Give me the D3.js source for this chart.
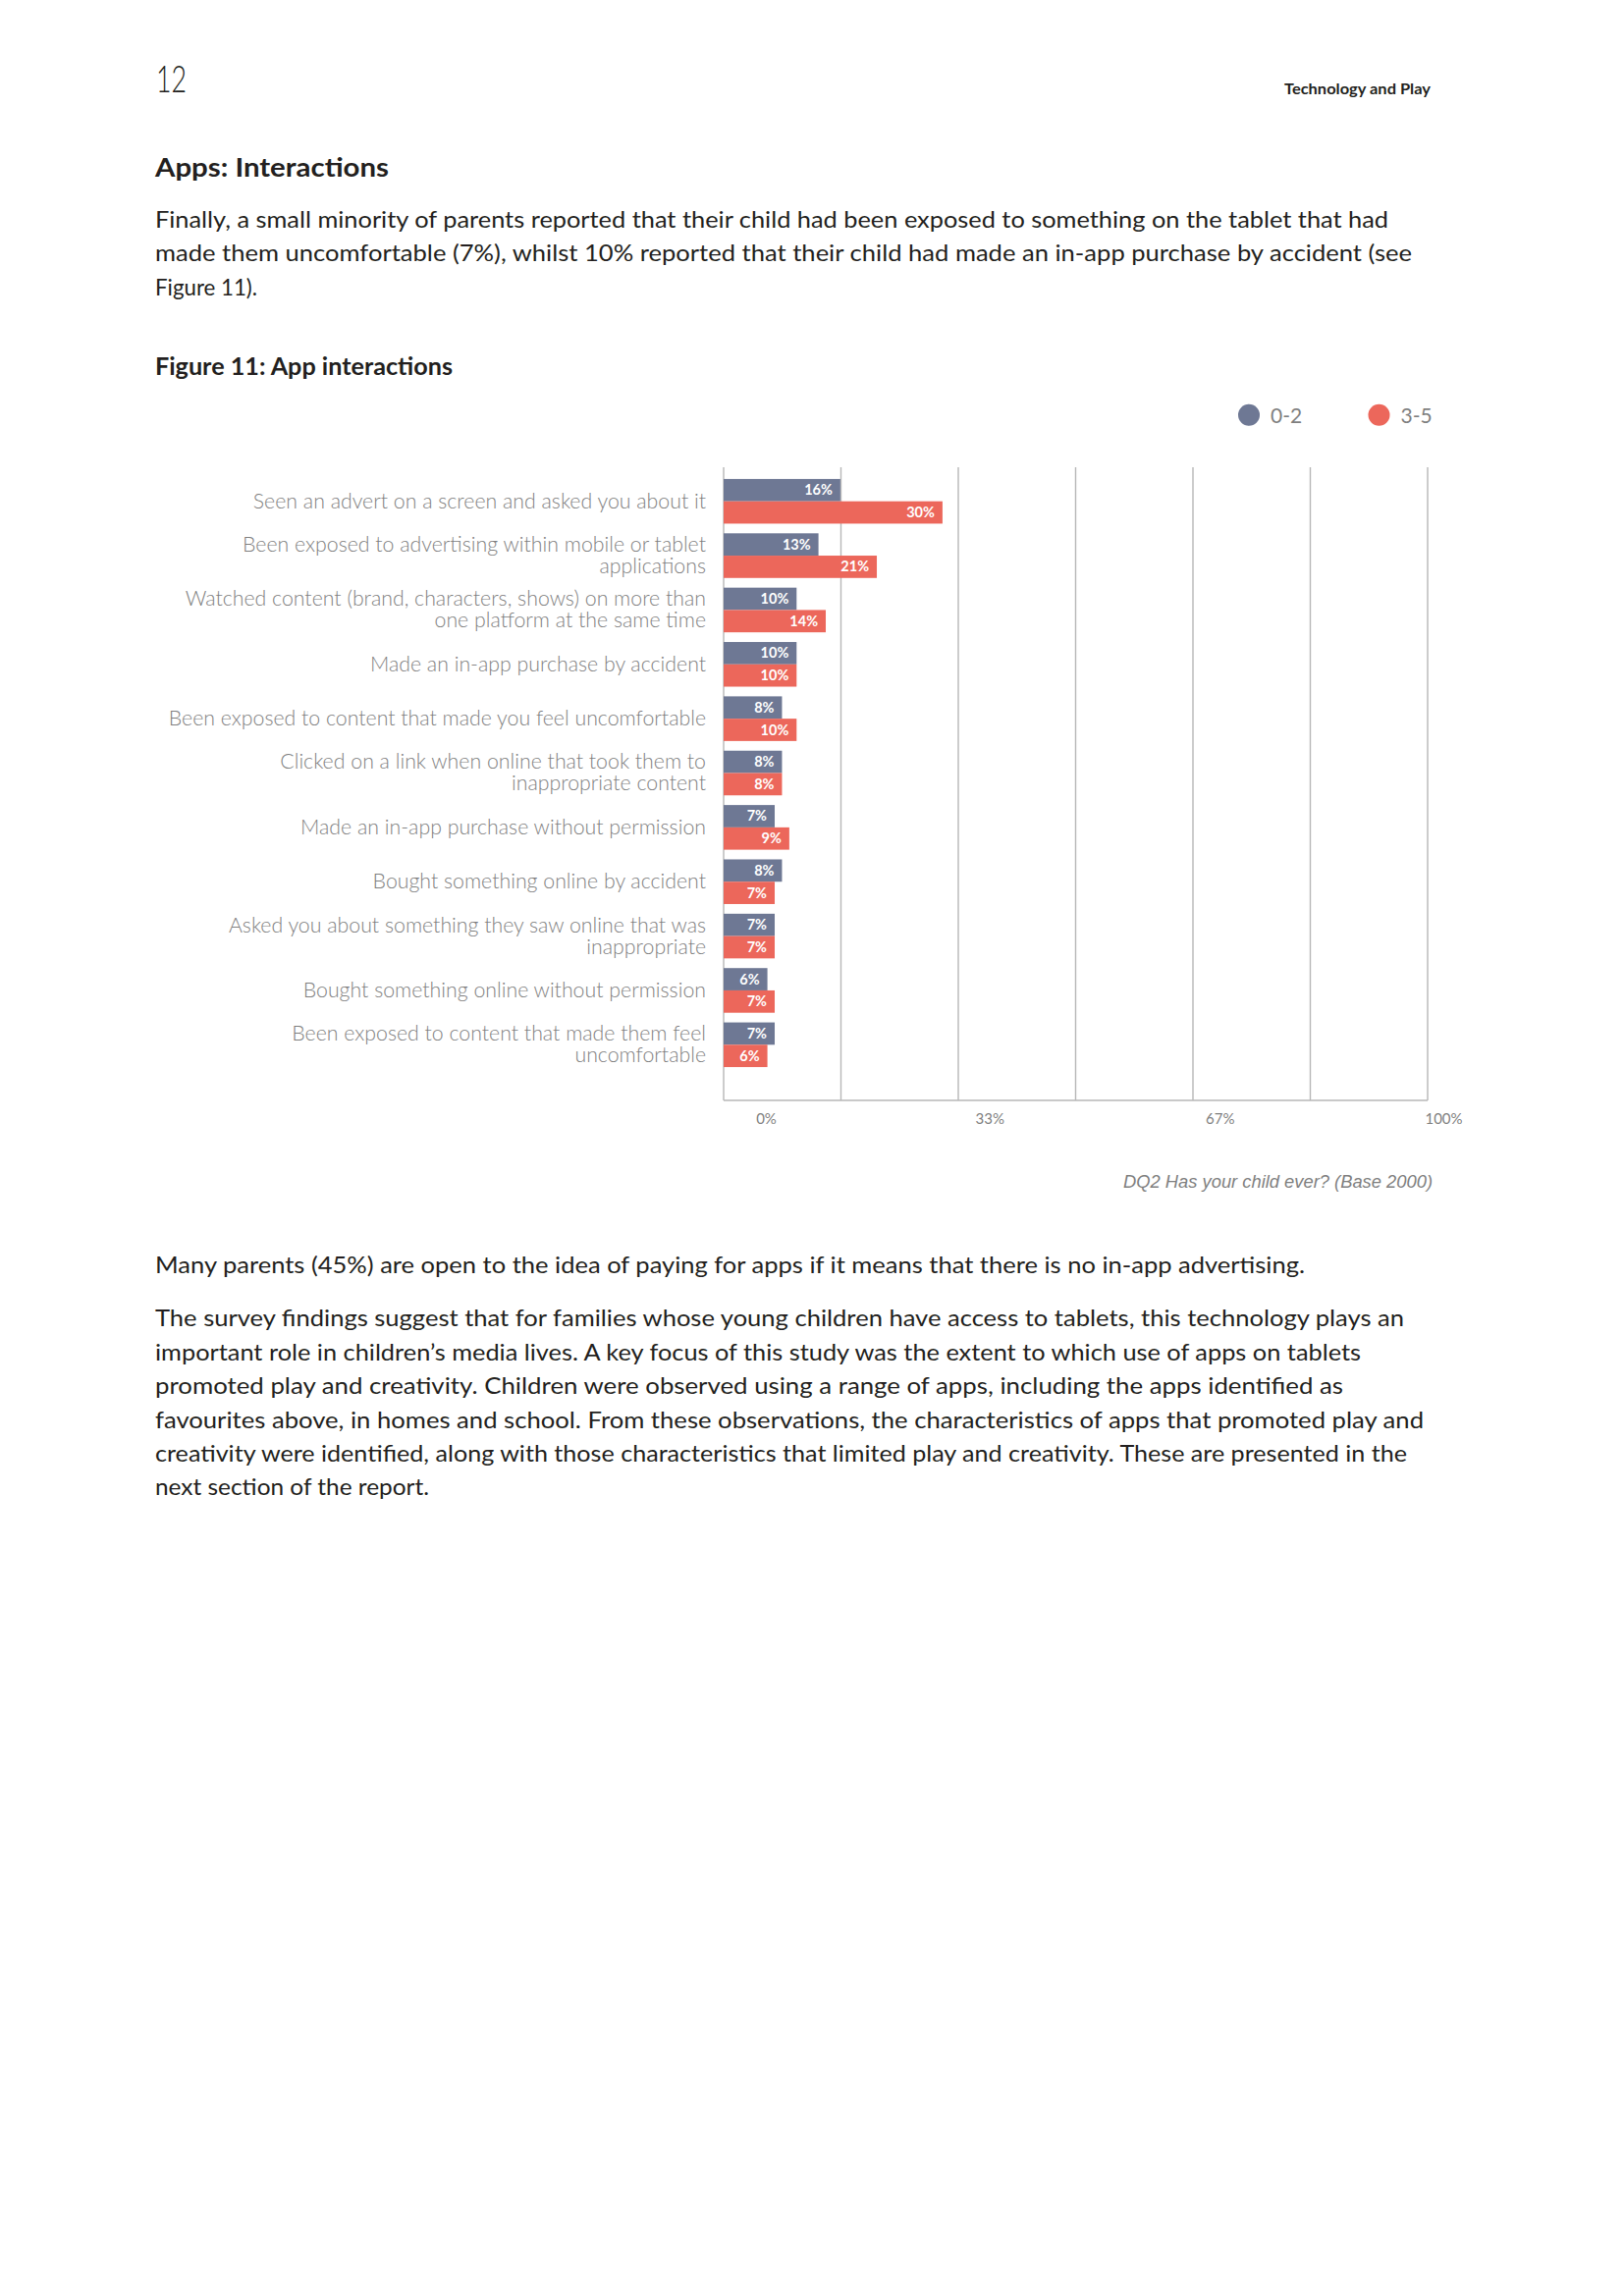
<!DOCTYPE html>
<html><head><meta charset="utf-8">
<script src="https://cdn.jsdelivr.net/npm/d3@7"></script>
<style>
html,body{margin:0;padding:0;background:#fff;}
svg{display:block;}
</style></head><body>
<script>
// ---------- DATA ----------
const categories = [
  "Seen an advert on a screen and asked you about it",
  "Been exposed to advertising within mobile or tablet\napplications",
  "Watched content (brand, characters, shows) on more than\none platform at the same time",
  "Made an in-app purchase by accident",
  "Been exposed to content that made you feel uncomfortable",
  "Clicked on a link when online that took them to\ninappropriate content",
  "Made an in-app purchase without permission",
  "Bought something online by accident",
  "Asked you about something they saw online that was\ninappropriate",
  "Bought something online without permission",
  "Been exposed to content that made them feel\nuncomfortable"
];
const seriesNames = ["0-2", "3-5"];
const values02 = [16, 13, 10, 10, 8, 8, 7, 8, 7, 6, 7];
const values35 = [30, 21, 14, 10, 10, 8, 9, 7, 7, 7, 6];
const axisMax = 96.5;              // right-most gridline value
const gridCount = 6;
const tickLabels = [0, 33, 67, 100];
const sourceNote = "DQ2 Has your child ever? (Base 2000)";

const para1 = [
  "Finally, a small minority of parents reported that their child had been exposed to something on the tablet that had",
  "made them uncomfortable (7%), whilst 10% reported that their child had made an in-app purchase by accident (see",
  "Figure 11)."
];
const para2 = ["Many parents (45%) are open to the idea of paying for apps if it means that there is no in-app advertising."];
const para3 = [
  "The survey findings suggest that for families whose young children have access to tablets, this technology plays an",
  "important role in children’s media lives. A key focus of this study was the extent to which use of apps on tablets",
  "promoted play and creativity. Children were observed using a range of apps, including the apps identified as",
  "favourites above, in homes and school. From these observations, the characteristics of apps that promoted play and",
  "creativity were identified, along with those characteristics that limited play and creativity. These are presented in the",
  "next section of the report."
];

// ---------- LAYOUT / STYLE ----------
const W = 1654, H = 2339;
const FONT = "Lato, 'Open Sans', sans-serif";
const TXT = "#231f20";
const GREY = "#7f7f7f";
const colors = ["#6e7894", "#ec675b"];

const svg = d3.select("body").append("svg").attr("width", W).attr("height", H)
  .style("background", "#fff");

function fit(sel, w) {
  sel.attr("textLength", w).attr("lengthAdjust", "spacingAndGlyphs");
  return sel;
}

// Header
fit(svg.append("text").attr("x", 159).attr("y", 94).text("12")
  .attr("font-family", FONT).attr("font-weight", 300).attr("font-size", 38).attr("fill", TXT), 31);
fit(svg.append("text").attr("x", 1308).attr("y", 95.5).text("Technology and Play")
  .attr("font-family", FONT).attr("font-weight", 700).attr("font-size", 16).attr("fill", TXT), 149);

fit(svg.append("text").attr("x", 158).attr("y", 180).text("Apps: Interactions")
  .attr("font-family", FONT).attr("font-weight", 700).attr("font-size", 27.5).attr("fill", TXT), 238);

function paragraph(lines, baselines, ends) {
  lines.forEach((l, i) => {
    const t = svg.append("text").attr("x", 158).attr("y", baselines[i]).text(l)
      .attr("font-family", FONT).attr("font-weight", 400).attr("font-size", 22.5).attr("fill", TXT);
    fit(t, ends[i] - 158);
  });
}
paragraph(para1, [231.5, 266, 300.5], [1414, 1438, 262]);
fit(svg.append("text").attr("x", 158).attr("y", 382).text("Figure 11: App interactions")
  .attr("font-family", FONT).attr("font-weight", 700).attr("font-size", 25).attr("fill", TXT), 303);
paragraph(para2, [1297], [1329]);
paragraph(para3, [1351, 1385.5, 1420, 1454.5, 1489, 1523], [1430, 1386, 1368, 1450, 1433, 437]);

// ---------- CHART ----------
const plotLeft = 737, plotRight = 1454, plotTop = 476, plotBottom = 1121;
const x = d3.scaleLinear().domain([0, axisMax]).range([plotLeft, plotRight]);
const y = d3.scaleBand().domain(categories).range([483, 1092]).padding(0);
const ySub = d3.scaleBand().domain(seriesNames).range([0, y.bandwidth()])
  .paddingInner(0).paddingOuter(0.217);
const color = d3.scaleOrdinal().domain(seriesNames).range(colors);

const g = svg.append("g");

// gridlines
const gridVals = d3.range(gridCount + 1).map(i => axisMax * i / gridCount);
g.selectAll("line.grid").data(gridVals).join("line").attr("class", "grid")
  .attr("x1", d => x(d)).attr("x2", d => x(d))
  .attr("y1", plotTop).attr("y2", plotBottom)
  .attr("stroke", "#b7b7b7").attr("stroke-width", 1.4);
g.append("line").attr("x1", x(0)).attr("x2", x(axisMax))
  .attr("y1", plotBottom).attr("y2", plotBottom)
  .attr("stroke", "#b7b7b7").attr("stroke-width", 1.6);

// bars
const rows = categories.map((c, i) => ({ cat: c, vals: [values02[i], values35[i]] }));
const rowG = g.selectAll("g.row").data(rows).join("g").attr("class", "row")
  .attr("transform", d => `translate(0,${y(d.cat)})`);

rowG.selectAll("rect").data(d => d.vals.map((v, k) => ({ s: seriesNames[k], v })))
  .join("rect")
  .attr("x", x(0)).attr("y", d => ySub(d.s))
  .attr("width", d => x(d.v) - x(0)).attr("height", ySub.bandwidth())
  .attr("fill", d => color(d.s));

rowG.selectAll("text.val").data(d => d.vals.map((v, k) => ({ s: seriesNames[k], v })))
  .join("text").attr("class", "val")
  .attr("x", d => x(d.v) - 8).attr("y", d => ySub(d.s) + ySub.bandwidth() / 2 + 5)
  .attr("text-anchor", "end").attr("fill", "#fff")
  .attr("font-family", FONT).attr("font-weight", 700).attr("font-size", 14.5)
  .text(d => d.v + "%");

// category labels
rowG.each(function (d) {
  const lines = d.cat.split("\n");
  const cy = y.bandwidth() / 2;
  const lh = 22;
  const t = d3.select(this).append("text").attr("text-anchor", "end")
    .attr("font-family", FONT).attr("font-weight", 300).attr("font-size", 21.3).attr("fill", GREY);
  lines.forEach((l, i) => {
    t.append("tspan").attr("x", 719)
      .attr("y", cy + 7 + (i - (lines.length - 1) / 2) * lh).text(l);
  });
});

// tick labels (positioned independently of gridlines, as in source)
const tickScale = d3.scaleLinear().domain([0, 100]).range([780, 1470]);
const axis = d3.axisBottom(tickScale).tickValues(tickLabels).tickSize(0).tickPadding(0)
  .tickFormat(d => d + "%");
const ax = svg.append("g").attr("transform", `translate(0,${1134})`).call(axis);
ax.select(".domain").remove();
ax.selectAll("text").attr("font-family", FONT).attr("font-size", 15).attr("fill", GREY)
  .attr("dy", "0.71em");

// source note
fit(svg.append("text").attr("x", 1144).attr("y", 1210)
  .attr("font-family", "'Liberation Sans', Arial, sans-serif").attr("font-style", "italic")
  .attr("font-size", 18).attr("fill", GREY).text(sourceNote), 315);

// legend
const legX = [1272, 1404.5];
const leg = svg.selectAll("g.leg").data(seriesNames).join("g").attr("class", "leg")
  .attr("transform", (d, i) => `translate(${legX[i]},422.7)`);
leg.append("circle").attr("r", 11).attr("fill", d => color(d));
leg.append("text").attr("x", 22).attr("y", 8).text(d => d)
  .attr("font-family", FONT).attr("font-size", 21).attr("fill", GREY);
</script>
</body></html>
